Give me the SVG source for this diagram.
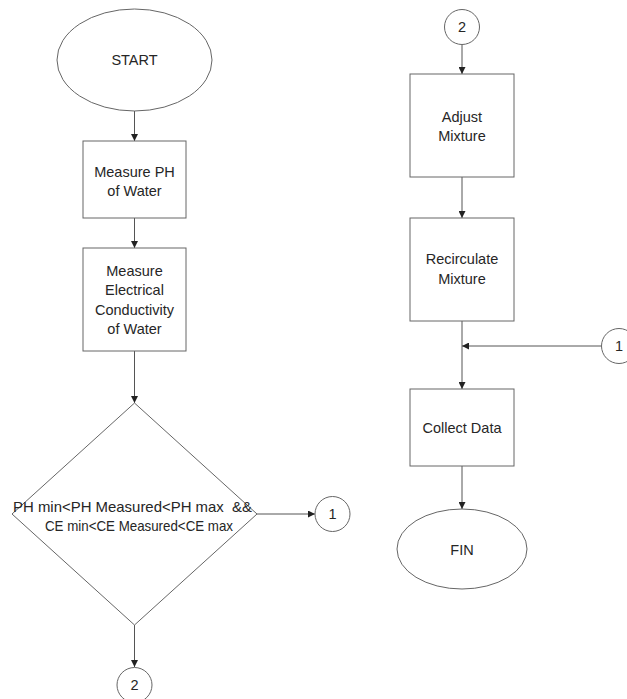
<svg xmlns="http://www.w3.org/2000/svg" width="627" height="699" viewBox="0 0 627 699">
<defs>
<marker id="ah" viewBox="0 0 10 10" refX="10" refY="5" markerWidth="7" markerHeight="7" markerUnits="userSpaceOnUse" orient="auto"><path d="M0,0 L10,5 L0,10 z" fill="#222"/></marker>
<style>
.s{fill:#fff;stroke:#666;stroke-width:1}
.t{font-family:"Liberation Sans",Arial,sans-serif;font-size:14.5px;fill:#262626;text-anchor:middle}
.c{fill:none;stroke:#555;stroke-width:1;marker-end:url(#ah)}
.l{fill:none;stroke:#555;stroke-width:1}
</style>
</defs>
<rect width="627" height="699" fill="#fff"/>
<g id="connectors">
<path class="c" d="M134.5,111 V141"/>
<path class="c" d="M134.5,218 V248"/>
<path class="c" d="M134.5,351 V403"/>
<path class="c" d="M257,514 H315"/>
<path class="c" d="M134.5,625 V667"/>
<path class="c" d="M462,45 V74"/>
<path class="c" d="M462,177 V218"/>
<path class="l" d="M462,321 V346"/>
<path class="c" d="M601,346 H462"/>
<path class="c" d="M462,346 V389"/>
<path class="c" d="M462,466 V509"/>
</g>
<g id="start"><ellipse class="s" cx="134.5" cy="60" rx="77.5" ry="51"/><text class="t" x="134.5" y="65">START</text></g>
<g id="measure-ph"><rect class="s" x="83" y="141" width="103" height="77"/><text class="t" x="134.5" y="177">Measure PH</text><text class="t" x="134.5" y="196">of Water</text></g>
<g id="measure-ce"><rect class="s" x="83" y="248" width="103" height="103"/><text class="t" x="134.5" y="276">Measure</text><text class="t" x="134.5" y="295">Electrical</text><text class="t" x="134.5" y="315">Conductivity</text><text class="t" x="134.5" y="334">of Water</text></g>
<g id="decision"><polygon class="s" points="134.5,403 257,514 134.5,625 12,514"/><text class="t" x="132.5" y="512" textLength="239" lengthAdjust="spacingAndGlyphs" style="white-space:pre">PH min&lt;PH Measured&lt;PH max  &amp;&amp;</text><text class="t" x="139" y="531" textLength="188" lengthAdjust="spacingAndGlyphs">CE min&lt;CE Measured&lt;CE max</text></g>
<g id="conn1-out"><circle class="s" cx="332.5" cy="514" r="17.5"/><text class="t" x="332.5" y="519">1</text></g>
<g id="conn2-out"><circle class="s" cx="134.5" cy="685" r="17.5"/><text class="t" x="134.5" y="690">2</text></g>
<g id="conn2-in"><circle class="s" cx="462" cy="27" r="17.5"/><text class="t" x="462" y="32">2</text></g>
<g id="adjust"><rect class="s" x="410" y="74" width="104" height="103"/><text class="t" x="462" y="122">Adjust</text><text class="t" x="462" y="141">Mixture</text></g>
<g id="recirculate"><rect class="s" x="410" y="218" width="104" height="103"/><text class="t" x="462" y="264">Recirculate</text><text class="t" x="462" y="284">Mixture</text></g>
<g id="conn1-in"><circle class="s" cx="619" cy="346" r="17.5"/><text class="t" x="619" y="351">1</text></g>
<g id="collect"><rect class="s" x="410" y="389" width="104" height="77"/><text class="t" x="462" y="433">Collect Data</text></g>
<g id="fin"><ellipse class="s" cx="462" cy="549" rx="65" ry="40"/><text class="t" x="462" y="555">FIN</text></g>
</svg>
